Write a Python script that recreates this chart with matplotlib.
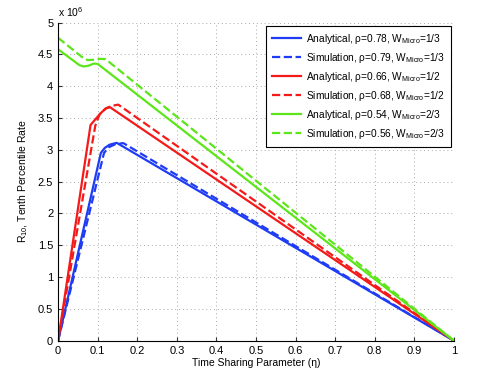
import numpy as np
import matplotlib
matplotlib.use("Agg")
import matplotlib.pyplot as plt

plt.rcParams['font.family'] = ['Liberation Sans', 'DejaVu Sans']
plt.rcParams['mathtext.fontset'] = 'custom'
plt.rcParams['mathtext.rm'] = 'Liberation Sans'
plt.rcParams['mathtext.it'] = 'Liberation Sans:italic'

# R_10 values in units of 10^6
eta_ana_1 = [0, 0.108, 0.118, 0.130, 0.148, 1.0]
r_ana_1 = [0, 2.95, 3.03, 3.08, 3.11, 0]
eta_sim_1 = [0, 0.116, 0.128, 0.145, 0.165, 1.0]
r_sim_1 = [0, 2.95, 3.04, 3.09, 3.105, 0]

eta_ana_2 = [0, 0.082, 0.097, 0.110, 0.121, 0.131, 1.0]
r_ana_2 = [0, 3.39, 3.50, 3.59, 3.65, 3.67, 0]
eta_sim_2 = [0, 0.094, 0.105, 0.120, 0.135, 0.152, 1.0]
r_sim_2 = [0, 3.38, 3.56, 3.65, 3.69, 3.71, 0]

eta_ana_3 = [0, 0.054, 0.064, 0.076, 0.090, 0.100, 1.0]
r_ana_3 = [4.58, 4.33, 4.31, 4.32, 4.355, 4.35, 0]
eta_sim_3 = [0, 0.064, 0.075, 0.090, 0.106, 0.120, 1.0]
r_sim_3 = [4.76, 4.44, 4.41, 4.415, 4.43, 4.425, 0]

labels = [
    r'Analytical, ρ=0.78, W$_{\mathrm{Micro}}$=1/3',
    r'Simulation, ρ=0.79, W$_{\mathrm{Micro}}$=1/3',
    r'Analytical, ρ=0.66, W$_{\mathrm{Micro}}$=1/2',
    r'Simulation, ρ=0.68, W$_{\mathrm{Micro}}$=1/2',
    r'Analytical, ρ=0.54, W$_{\mathrm{Micro}}$=2/3',
    r'Simulation, ρ=0.56, W$_{\mathrm{Micro}}$=2/3',
]

blue = '#1f3cf5'
red = '#f51a1a'
green = '#5ce61a'

fig = plt.figure(figsize=(4.84, 3.82), dpi=100)
ax = fig.add_axes([0.12, 0.108, 0.818, 0.833])

lw = 1.6
ax.plot(eta_ana_1, r_ana_1, '-', color=blue, lw=lw, label=labels[0])
ax.plot(eta_sim_1, r_sim_1, '--', color=blue, lw=lw, label=labels[1])
ax.plot(eta_ana_2, r_ana_2, '-', color=red, lw=lw, label=labels[2])
ax.plot(eta_sim_2, r_sim_2, '--', color=red, lw=lw, label=labels[3])
ax.plot(eta_ana_3, r_ana_3, '-', color=green, lw=lw, label=labels[4])
ax.plot(eta_sim_3, r_sim_3, '--', color=green, lw=lw, label=labels[5])

ax.set_xlim(0, 1)
ax.set_ylim(0, 5)
ax.set_xticks(np.arange(0, 1.01, 0.1))
ax.set_xticklabels(['0', '0.1', '0.2', '0.3', '0.4', '0.5', '0.6', '0.7', '0.8', '0.9', '1'])
ax.set_yticks(np.arange(0, 5.01, 0.5))
ax.set_yticklabels(['0', '0.5', '1', '1.5', '2', '2.5', '3', '3.5', '4', '4.5', '5'])
ax.tick_params(direction='in', labelsize=8, length=3, color='#333333')
ax.spines['top'].set_visible(False)
ax.spines['right'].set_visible(False)
ax.grid(True, linestyle=(0, (1, 3)), color='#aaaaaa', linewidth=0.7)

ax.set_xlabel('Time Sharing Parameter (η)', fontsize=7.5, labelpad=2)
ax.set_ylabel(r'R$_{10}$, Tenth Percentile Rate', fontsize=7.5, labelpad=6)
ax.text(0.0, 1.01, r'x 10$^6$', transform=ax.transAxes, fontsize=7.5,
        ha='left', va='bottom')

leg = ax.legend(loc='upper right', fontsize=7.3, handlelength=2.9,
                labelspacing=0.5, borderaxespad=0.3, fancybox=False,
                framealpha=1, edgecolor='black', handletextpad=0.5,
                borderpad=0.6)
leg.get_frame().set_linewidth(0.8)

fig.savefig('out.png', dpi=100)
